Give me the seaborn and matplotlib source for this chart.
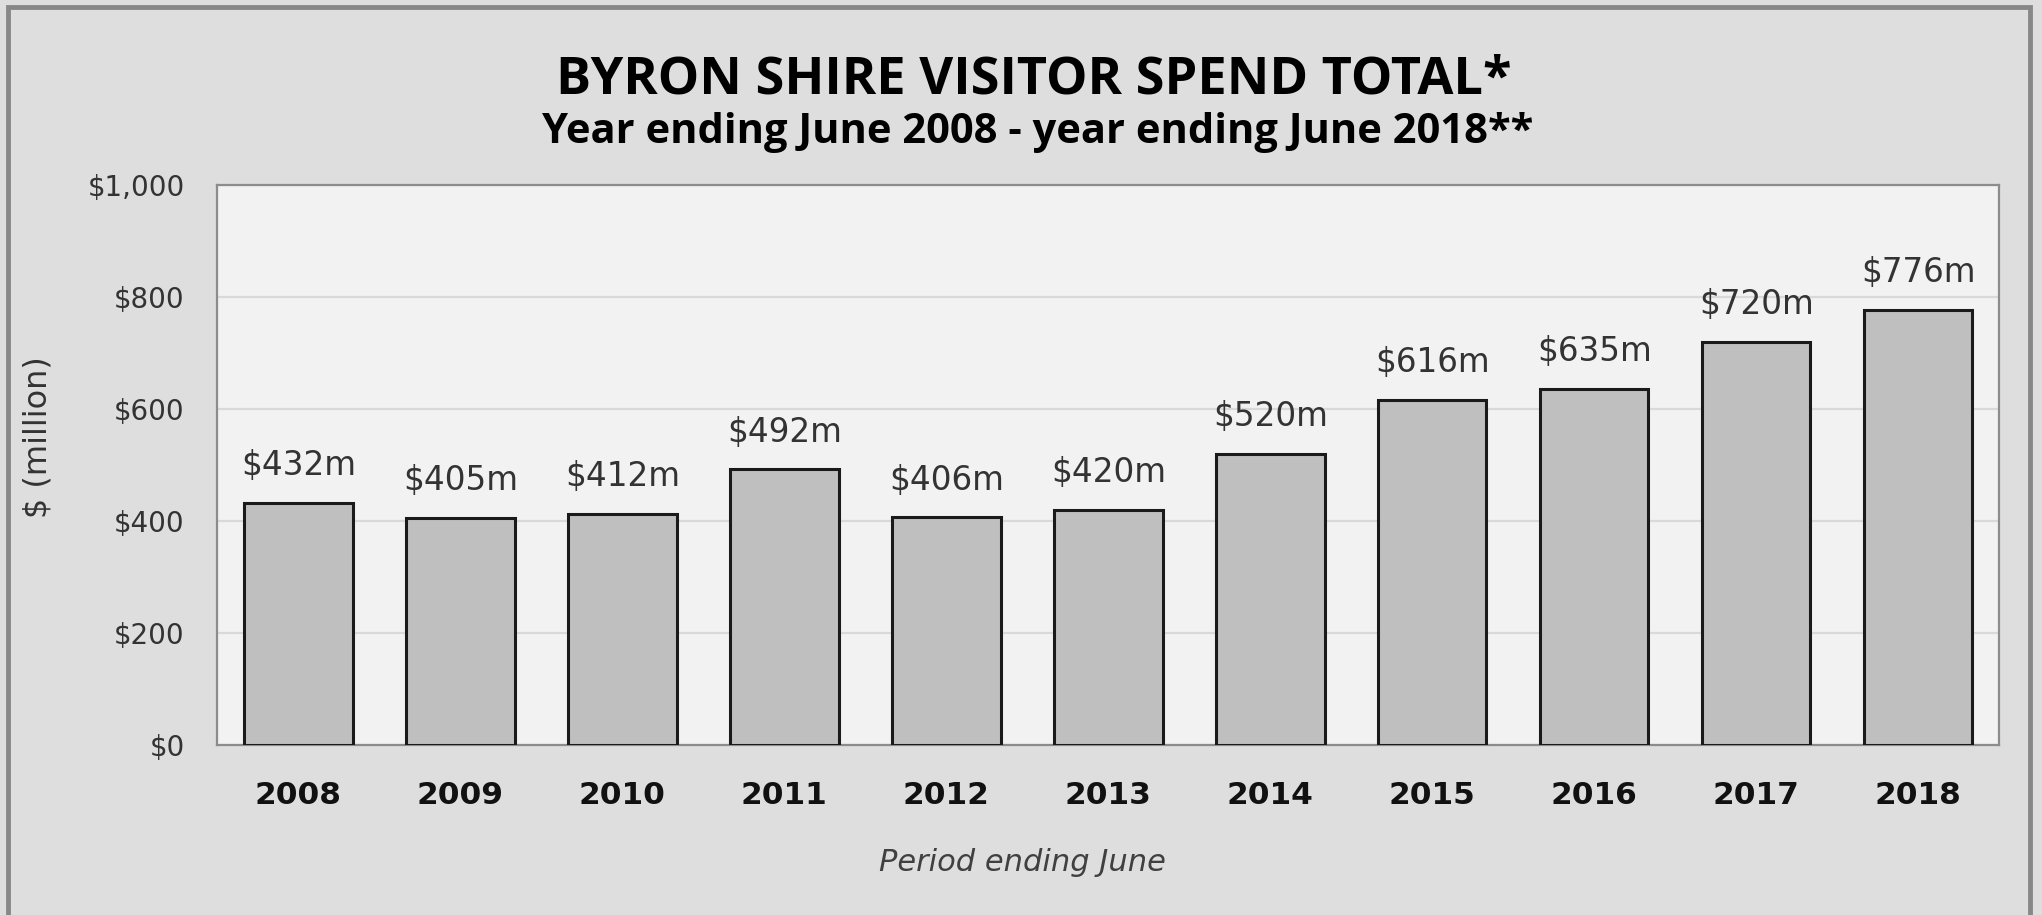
import matplotlib
matplotlib.use("Agg")
import matplotlib.pyplot as plt
from matplotlib.patches import Rectangle
import seaborn as sns
import pandas as pd

years = ["2008", "2009", "2010", "2011", "2012", "2013", "2014", "2015", "2016", "2017", "2018"]
spend = [432, 405, 412, 492, 406, 420, 520, 616, 635, 720, 776]
y_ticks = [0, 200, 400, 600, 800, 1000]
y_tick_labels = ["$0", "$200", "$400", "$600", "$800", "$1,000"]

df = pd.DataFrame({"year": years, "spend": spend})

sns.set_theme(style="white")
plt.rcParams["font.family"] = ["DejaVu Sans"]

fig = plt.figure(figsize=(20.42, 9.15), dpi=100, facecolor="#dedede")
ax = fig.add_axes([0.1065, 0.186, 0.8725, 0.612])
ax.set_facecolor("#f2f2f2")

sns.barplot(data=df, x="year", y="spend", ax=ax, color="#bfbfbf",
            width=0.67, edgecolor="#1a1a1a", linewidth=2.2, saturation=1, zorder=3)

ax.set_ylim(0, 1000)
ax.set_yticks(y_ticks)
ax.set_yticklabels(y_tick_labels, fontsize=20, color="#333333")
ax.yaxis.grid(True, color="#d9d9d9", linewidth=1.6, zorder=0)
ax.set_axisbelow(True)
ax.tick_params(axis="y", length=0, pad=23.5)
ax.tick_params(axis="x", length=0, pad=26)
for lbl in ax.get_xticklabels():
    lbl.set_fontsize(22.5)
    lbl.set_fontweight("bold")
    lbl.set_color("#111111")

for side in ["left", "right", "top", "bottom"]:
    ax.spines[side].set_visible(True)
    ax.spines[side].set_color("#8c8c8c")
    ax.spines[side].set_linewidth(1.6)

for patch, val in zip(ax.patches, spend):
    ax.annotate(f"${val}m", (patch.get_x() + patch.get_width() / 2, val),
                xytext=(0, 20), textcoords="offset points",
                ha="center", va="baseline", fontsize=23.5, color="#333333")

ax.set_xlabel("Period ending June", fontsize=22, style="italic", color="#404040", labelpad=24)
ax.xaxis.set_label_coords(0.452, -0.185)
ax.set_ylabel("$ (million)", fontsize=23, color="#333333")
ax.yaxis.set_label_coords(-0.092, 0.549)

title_font = ["Open Sans", "DejaVu Sans"]
fig.text(0.506, 0.913, "BYRON SHIRE VISITOR SPEND TOTAL*", ha="center", va="center",
         fontsize=37.6, fontweight="bold", family=title_font, color="#000000")
fig.text(0.508, 0.855, "Year ending June 2008 - year ending June 2018**", ha="center", va="center",
         fontsize=30, fontweight="bold", family=title_font, color="#000000")

# outer frame (left, top, right edges)
fig.patches.append(Rectangle((0.004, -0.05), 0.99, 1.042, transform=fig.transFigure,
                             fill=False, edgecolor="#888888", linewidth=3.5))

fig.savefig("out.png", dpi=100, facecolor=fig.get_facecolor())
